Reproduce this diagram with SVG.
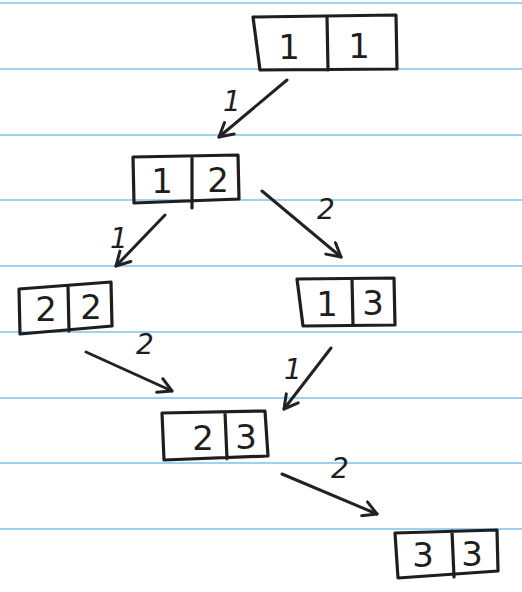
<svg xmlns="http://www.w3.org/2000/svg" width="522" height="592" viewBox="0 0 522 592">
<defs>
<marker id="ah" viewBox="0 0 12 12" refX="10" refY="6" markerWidth="6" markerHeight="6" orient="auto" markerUnits="strokeWidth">
<path d="M1,1 L10,6 L1,11" fill="none" stroke="#222" stroke-width="2" stroke-linecap="round" stroke-linejoin="round"/>
</marker>
</defs>
<style>
.rule{stroke:#9fd0f0;stroke-width:2}
.box{fill:none;stroke:#1e1e1e;stroke-width:3.2;stroke-linejoin:round;stroke-linecap:round}
.dig{font-family:"DejaVu Sans",sans-serif;font-size:34px;fill:#1e1e1e;text-anchor:middle}
.lbl{font-family:"DejaVu Sans",sans-serif;font-size:28px;fill:#1e1e1e;text-anchor:middle;font-style:italic}
.edge{stroke:#222;stroke-width:3;fill:none;stroke-linecap:round;marker-end:url(#ah)}
</style>
<rect width="522" height="592" fill="#ffffff"/>
<g id="paper">
<line class="rule" x1="0" y1="3" x2="522" y2="3"/>
<line class="rule" x1="0" y1="69" x2="522" y2="69"/>
<line class="rule" x1="0" y1="135" x2="522" y2="135"/>
<line class="rule" x1="0" y1="200" x2="522" y2="200"/>
<line class="rule" x1="0" y1="266" x2="522" y2="266"/>
<line class="rule" x1="0" y1="332" x2="522" y2="332"/>
<line class="rule" x1="0" y1="398" x2="522" y2="398"/>
<line class="rule" x1="0" y1="463" x2="522" y2="463"/>
<line class="rule" x1="0" y1="529" x2="522" y2="529"/>
</g>
<g id="connectors">
<line class="edge" x1="287" y1="80" x2="219" y2="137"/>
<line class="edge" x1="165" y1="215" x2="116" y2="266"/>
<line class="edge" x1="262" y1="191" x2="341" y2="257"/>
<line class="edge" x1="86" y1="352" x2="172" y2="391"/>
<line class="edge" x1="331" y1="348" x2="284" y2="409"/>
<line class="edge" x1="282" y1="474" x2="377" y2="514"/>
<text class="lbl" x="232" y="111">1</text>
<text class="lbl" x="119" y="248">1</text>
<text class="lbl" x="326" y="219">2</text>
<text class="lbl" x="145" y="354">2</text>
<text class="lbl" x="293" y="379">1</text>
<text class="lbl" x="340" y="478">2</text>
</g>
<g id="n11">
<path class="box" d="M253,17 L396,15 L397,69 L260,70 Z M327,16 L328,70"/>
<text class="dig" x="289" y="59">1</text>
<text class="dig" x="359" y="58">1</text>
</g>
<g id="n12">
<path class="box" d="M133,157 L238,155 L239,199 L134,203 Z M192,156 L192,208"/>
<text class="dig" x="162" y="193">1</text>
<text class="dig" x="218" y="192">2</text>
</g>
<g id="n22">
<path class="box" d="M19,289 L111,282 L112,326 L20,334 Z M68,286 L69,331"/>
<text class="dig" x="46" y="321">2</text>
<text class="dig" x="91" y="319">2</text>
</g>
<g id="n13">
<path class="box" d="M297,279 L394,278 L395,325 L303,326 Z M352,279 L353,325"/>
<text class="dig" x="327" y="316">1</text>
<text class="dig" x="373" y="315">3</text>
</g>
<g id="n23">
<path class="box" d="M162,413 L265,411 L268,456 L164,460 Z M225,412 L227,459"/>
<text class="dig" x="203" y="450">2</text>
<text class="dig" x="246" y="449">3</text>
</g>
<g id="n33">
<path class="box" d="M395,533 L497,530 L498,571 L398,578 Z M452,531 L454,577"/>
<text class="dig" x="423" y="567">3</text>
<text class="dig" x="472" y="566">3</text>
</g>
</svg>
